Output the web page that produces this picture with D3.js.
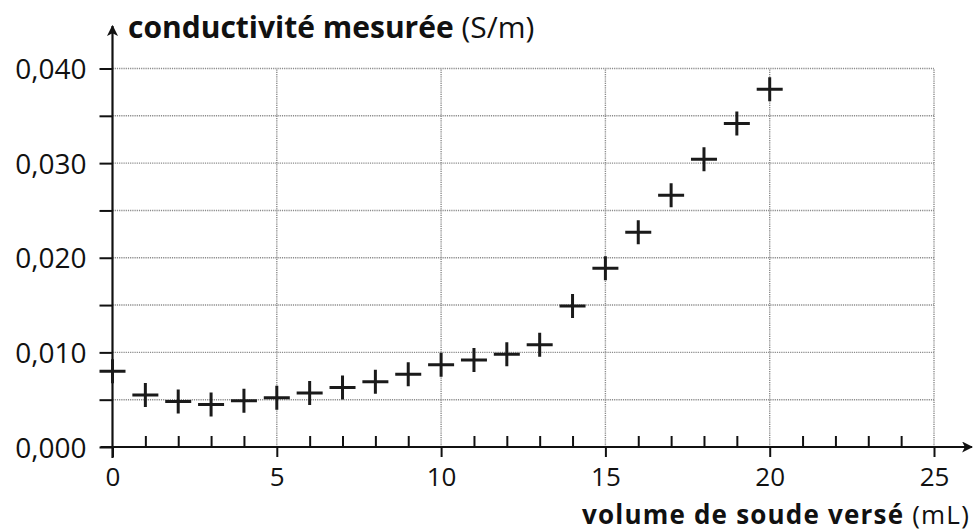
<!DOCTYPE html>
<html><head><meta charset="utf-8">
<script src="https://cdn.jsdelivr.net/npm/d3@7"></script>
<style>
body{margin:0;background:#fff;}
text{font-family:"Open Sans","Noto Sans",sans-serif;fill:#111;}
</style></head>
<body>
<svg id="chart" width="974" height="531"></svg>
<script>
const volumes = [0,1,2,3,4,5,6,7,8,9,10,11,12,13,14,15,16,17,18,19,20];
const conductivities = [0.0080,0.0055,0.0048,0.0045,0.0049,0.0052,0.0057,0.0063,0.0069,0.0077,0.0087,0.0092,0.0098,0.0108,0.0149,0.0189,0.0227,0.0266,0.0304,0.0342,0.0378];
const xMajorTicks = [0,5,10,15,20,25];
const xMinorTicks = [1,2,3,4,6,7,8,9,11,12,13,14,16,17,18,19,21,22,23,24];
const yTicks = [0,0.005,0.010,0.015,0.020,0.025,0.030,0.035,0.040];
const yLabelTicks = [0,0.010,0.020,0.030,0.040];
const yTitleBold = "conductivité mesurée";
const yTitleUnit = " (S/m)";
const xTitleBold = "volume de soude versé";
const xTitleUnit = " (mL)";

const svg = d3.select("#chart");
const x = d3.scaleLinear().domain([0,25]).range([112.5,934]);
const y = d3.scaleLinear().domain([0,0.04]).range([447,68.5]);
const fmt = v => d3.format(".3f")(v).replace(".", ",");

// grid
const grid = svg.append("g").attr("stroke","#8a8a8a").attr("stroke-width",1.4).attr("stroke-dasharray","1.2,1").attr("fill","none");
grid.selectAll("line.h").data(yTicks.filter(d=>d>0)).join("line")
  .attr("x1",x(0)).attr("x2",x(25)).attr("y1",d=>y(d)).attr("y2",d=>y(d));
grid.selectAll("line.v").data(xMajorTicks.filter(d=>d>0)).join("line")
  .attr("x1",d=>x(d)).attr("x2",d=>x(d)).attr("y1",y(0)).attr("y2",y(0.04));

// y axis ticks + labels
const yAxis = d3.axisLeft(y).tickValues(yTicks).tickSize(13).tickPadding(13)
  .tickFormat(d => yLabelTicks.some(t=>Math.abs(t-d)<1e-9) ? fmt(d) : "");
const gy = svg.append("g").attr("transform",`translate(${x(0)},0)`).call(yAxis);
gy.select(".domain").remove();
gy.selectAll("line").attr("stroke","#111").attr("stroke-width",2);
gy.selectAll("text").attr("font-size",28).attr("fill","#111").attr("dy","0.36em");

// x axis major (down) + labels
const xAxis = d3.axisBottom(x).tickValues(xMajorTicks).tickSize(10).tickPadding(11).tickFormat(d3.format("d"));
const gx = svg.append("g").attr("transform",`translate(0,${y(0)})`).call(xAxis);
gx.select(".domain").remove();
gx.selectAll("line").attr("stroke","#111").attr("stroke-width",2);
gx.selectAll("text").attr("font-size",26).attr("fill","#111");
// x axis minor (up)
const xMinor = d3.axisBottom(x).tickValues(xMinorTicks).tickSize(-11).tickFormat("");
const gm = svg.append("g").attr("transform",`translate(0,${y(0)})`).call(xMinor);
gm.select(".domain").remove();
gm.selectAll("line").attr("stroke","#111").attr("stroke-width",2);

// axis lines with arrows
const defs = svg.append("defs");
defs.append("marker").attr("id","arr").attr("viewBox","0 0 10 10").attr("refX",9).attr("refY",5)
  .attr("markerWidth",11).attr("markerHeight",11).attr("markerUnits","userSpaceOnUse").attr("orient","auto")
  .append("path").attr("d","M0,0 L10,5 L0,10 L2.5,5 Z").attr("fill","#111");
svg.append("line").attr("x1",x(0)).attr("x2",x(0)).attr("y1",y(0)+11).attr("y2",26)
  .attr("stroke","#111").attr("stroke-width",2.2).attr("marker-end","url(#arr)");
svg.append("line").attr("x1",x(0)-12).attr("x2",972).attr("y1",y(0)).attr("y2",y(0))
  .attr("stroke","#111").attr("stroke-width",2.2).attr("marker-end","url(#arr)");

// points (crosses)
svg.append("g").selectAll("path").data(volumes.map((v,i)=>[v,conductivities[i]])).join("path")
  .attr("d",d=>{const cx=x(d[0]),cy=y(d[1]);return `M${cx-13},${cy}h26M${cx},${cy-12}v24`;})
  .attr("stroke","#1a1a1a").attr("stroke-width",3).attr("fill","none");

// titles
const yt = svg.append("text").attr("x",128).attr("y",38).attr("font-size",30);
yt.append("tspan").attr("font-weight","bold").text(yTitleBold);
yt.append("tspan").text(yTitleUnit);
const xt = svg.append("text").attr("x",970).attr("y",524).attr("font-size",26)
  .attr("letter-spacing",1.2).attr("text-anchor","end");
xt.append("tspan").attr("font-weight","bold").text(xTitleBold);
xt.append("tspan").text(xTitleUnit);
</script>
</body></html>
